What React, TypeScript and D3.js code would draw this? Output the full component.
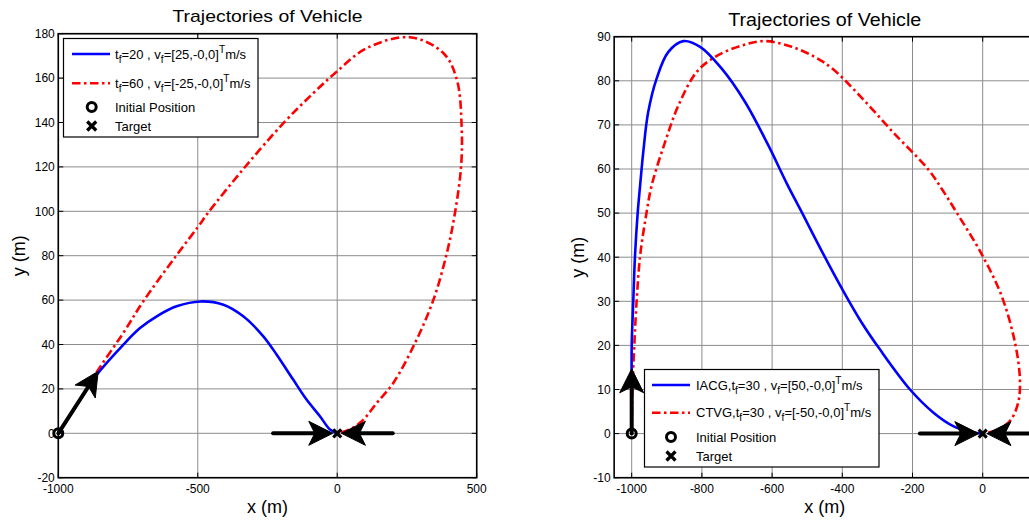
import React from 'react';
import * as d3 from 'd3';

const FONT = "'Liberation Sans', Arial, Helvetica, sans-serif";

// ---------- DATA ----------
const leftXTicks = [-1000, -500, 0, 500];
const leftYTicks = [-20, 0, 20, 40, 60, 80, 100, 120, 140, 160, 180];
const rightXTicks = [-1000, -800, -600, -400, -200, 0];
const rightYTicks = [-10, 0, 10, 20, 30, 40, 50, 60, 70, 80, 90];

type P = [number, number];

const leftBlue: P[] = [
  [-1000, 0], [-930, 13.5], [-862, 26.4], [-767, 39.9], [-707, 47.4], [-647, 52.7],
  [-576, 57.2], [-490, 59.4], [-408, 57.9], [-337, 52.7], [-265, 43.7], [-217, 35.4],
  [-158, 24.2], [-110, 15.2], [-62, 7.7], [-26, 1.7], [0, 0],
];
const leftRed: P[] = [
  [-1000, 0], [-930, 13.5], [-862, 27.6], [-767, 45.2], [-695, 59.5], [-575, 80.4],
  [-498, 93.2], [-462, 99.5], [-337, 119], [-193, 139.7], [-86, 153.2], [-2, 162.9],
  [106, 173.5], [261, 178.4], [381, 171.2], [429, 159.2], [446, 138.2], [444, 120.2],
  [422, 99.2], [393, 81.2], [345, 60.2], [279, 40.7], [201, 22.7], [142, 13.7],
  [88, 5.4], [40, 1.5], [0, 0],
];
const rightBlue: P[] = [
  [-1000, 0], [-1000, 10], [-1000, 19.9], [-995.5, 30], [-990.6, 40.3], [-983, 50],
  [-976, 56.3], [-967, 63.9], [-953, 72.9], [-929, 80.5], [-896, 86.5], [-853, 89],
  [-805, 87.7], [-744, 82.8], [-677, 75.2], [-611, 65.4], [-558, 56.7], [-520, 50.9],
  [-454, 40.7], [-397, 32.3], [-345, 25.2], [-293, 19.1], [-207, 10], [-141, 4.8],
  [-84, 1.7], [-40, 0.5], [0, 0],
];
const rightRed: P[] = [
  [-1000, 0], [-998, 10], [-992.6, 20], [-986, 30], [-976, 40.3], [-960, 49],
  [-943, 56.3], [-905, 66.1], [-867, 74.4], [-815, 82], [-763, 85.4], [-687, 88],
  [-620, 89], [-544, 87.7], [-478, 85.4], [-426, 82.6], [-350, 76.6], [-255, 68.3],
  [-155, 59.9], [-115, 55.3], [-74, 50.1], [-3, 40.7], [54, 31.2], [92, 20.6], [106, 12.3],
  [101, 7], [78, 2.9], [40, 0.8], [0, 0],
];

// arrows: [x0, y0, x1(tip), y1(tip)] in data units
const leftArrows: [number, number, number, number][] = [
  [-1000, 0, -857, 27.9],
  [-230, 0, -16, 0],
  [199, 0, 15, 0],
];
const rightArrows: [number, number, number, number][] = [
  [-1000, 0, -1000, 14.7],
  [-179, 0, -11, 0],
  [200, 0, 12, 0],
];

const initialPos: P = [-1000, 0];
const targetPos: P = [0, 0];

type Seg = { t: string; sub?: boolean; sup?: boolean };
const leftLegendBlue: Seg[] = [
  { t: 't' }, { t: 'f', sub: true }, { t: '=20 , v' }, { t: 'f', sub: true },
  { t: '=[25,-0,0]' }, { t: 'T', sup: true }, { t: 'm/s' },
];
const leftLegendRed: Seg[] = [
  { t: 't' }, { t: 'f', sub: true }, { t: '=60 , v' }, { t: 'f', sub: true },
  { t: '=[-25,-0,0]' }, { t: 'T', sup: true }, { t: 'm/s' },
];
const rightLegendBlue: Seg[] = [
  { t: 'IACG,t' }, { t: 'f', sub: true }, { t: '=30 , v' }, { t: 'f', sub: true },
  { t: '=[50,-0,0]' }, { t: 'T', sup: true }, { t: 'm/s' },
];
const rightLegendRed: Seg[] = [
  { t: 'CTVG,t' }, { t: 'f', sub: true }, { t: '=30 , v' }, { t: 'f', sub: true },
  { t: '=[-50,-0,0]' }, { t: 'T', sup: true }, { t: 'm/s' },
];

const titleText = 'Trajectories of Vehicle';
const xLabelText = 'x (m)';
const yLabelText = 'y (m)';
const initLabel = 'Initial Position';
const targetLabel = 'Target';

// ---------- STYLE ----------
const BLUE = '#0000ff';
const RED = '#ff0000';
const DASHDOT = '8.5,3.5,2.5,3.5';

function RichText({ x, y, segs, size }: { x: number; y: number; segs: Seg[]; size: number }) {
  let cur = 0;
  const spans = segs.map((s, i) => {
    const target = s.sub ? 4 : s.sup ? -6 : 0;
    const dy = target - cur;
    cur = target;
    return (
      <tspan key={i} dy={dy} fontSize={s.sub || s.sup ? size * 0.78 : size}>
        {s.t}
      </tspan>
    );
  });
  return (
    <text x={x} y={y} fontSize={size} fontFamily={FONT} fill="#000">
      {spans}
    </text>
  );
}

function Arrow({ sx, sy, tx, ty }: { sx: number; sy: number; tx: number; ty: number }) {
  const hl = 24, hw = 12, notch = 18;
  const dx = tx - sx, dy = ty - sy;
  const L = Math.hypot(dx, dy);
  const ux = dx / L, uy = dy / L;
  const nx = -uy, ny = ux;
  const bx = tx - ux * hl, by = ty - uy * hl;
  const mx = tx - ux * notch, my = ty - uy * notch;
  const c1 = [bx + nx * hw, by + ny * hw];
  const c2 = [bx - nx * hw, by - ny * hw];
  return (
    <g>
      <line x1={sx} y1={sy} x2={mx} y2={my} stroke="#000" strokeWidth={4} strokeLinecap="round" />
      <path d={`M${tx},${ty}L${c1[0]},${c1[1]}L${mx},${my}L${c2[0]},${c2[1]}Z`} fill="#000" stroke="#000" strokeWidth={1} strokeLinejoin="miter" />
    </g>
  );
}

function Circ({ cx, cy }: { cx: number; cy: number }) {
  return <circle cx={cx} cy={cy} r={4.5} fill="none" stroke="#000" strokeWidth={3} />;
}
function XMark({ cx, cy, s = 4.5 }: { cx: number; cy: number; s?: number }) {
  return (
    <path d={`M${cx - s},${cy - s}L${cx + s},${cy + s}M${cx - s},${cy + s}L${cx + s},${cy - s}`} stroke="#000" strokeWidth={3.2} />
  );
}

type Cfg = {
  id: string;
  xRef: [number, number];
  xRefPx: [number, number];
  xDomain: [number, number];
  yDomain: [number, number];
  yPx: [number, number];
  xTicks: number[];
  yTicks: number[];
  blue: P[];
  red: P[];
  arrows: [number, number, number, number][];
  titleY: number;
  titleSize: number;
  titleLen: number;
  yLabelX: number;
  legend: { x: number; y: number; w: number; h: number; rows: number[]; lx0: number; lx1: number; tx: number; mx: number };
  legBlue: Seg[];
  legRed: Seg[];
};

function Chart({ cfg }: { cfg: Cfg }) {
  const x = d3.scaleLinear().domain(cfg.xRef).range(cfg.xRefPx);
  const y = d3.scaleLinear().domain(cfg.yDomain).range(cfg.yPx);
  const left = x(cfg.xDomain[0]);
  const right = x(cfg.xDomain[1]);
  const bottom = y(cfg.yDomain[0]);
  const top = y(cfg.yDomain[1]);
  const line = d3
    .line<P>()
    .x((d) => x(d[0]))
    .y((d) => y(d[1]))
    .curve(d3.curveCatmullRom.alpha(0.5));
  const cx = (left + right) / 2;
  const cy = (top + bottom) / 2;
  const lg = cfg.legend;
  const tk = 5;
  return (
    <g>
      <defs>
        <clipPath id={`clip-${cfg.id}`}>
          <rect x={left} y={top} width={right - left} height={bottom - top} />
        </clipPath>
      </defs>
      <rect x={left} y={top} width={right - left} height={bottom - top} fill="#fff" />
      {/* grid */}
      <g stroke="#8c8c8c" strokeWidth={1}>
        {cfg.xTicks.map((t) => (
          <line key={'gx' + t} x1={x(t)} x2={x(t)} y1={top} y2={bottom} />
        ))}
        {cfg.yTicks.map((t) => (
          <line key={'gy' + t} x1={left} x2={right} y1={y(t)} y2={y(t)} />
        ))}
      </g>
      <g clipPath={`url(#clip-${cfg.id})`}>
        <path d={line(cfg.red) || ''} fill="none" stroke={RED} strokeWidth={2.6} strokeDasharray={DASHDOT} />
        <path d={line(cfg.blue) || ''} fill="none" stroke={BLUE} strokeWidth={2.6} />
      </g>
      {cfg.arrows.map((a, i) => (
        <Arrow key={i} sx={x(a[0])} sy={y(a[1])} tx={x(a[2])} ty={y(a[3])} />
      ))}
      <Circ cx={x(initialPos[0])} cy={y(initialPos[1])} />
      <XMark cx={x(targetPos[0])} cy={y(targetPos[1])} s={4} />
      {/* axes box */}
      <rect x={left} y={top} width={right - left} height={bottom - top} fill="none" stroke="#000" strokeWidth={1.6} />
      <g stroke="#000" strokeWidth={1}>
        {cfg.xTicks.map((t) => (
          <g key={'tx' + t}>
            <line x1={x(t)} x2={x(t)} y1={bottom} y2={bottom - tk} />
            <line x1={x(t)} x2={x(t)} y1={top} y2={top + tk} />
          </g>
        ))}
        {cfg.yTicks.map((t) => (
          <g key={'ty' + t}>
            <line x1={left} x2={left + tk} y1={y(t)} y2={y(t)} />
            <line x1={right} x2={right - tk} y1={y(t)} y2={y(t)} />
          </g>
        ))}
      </g>
      {/* tick labels */}
      <g fontFamily={FONT} fontSize={12} fill="#000">
        {cfg.xTicks.map((t) => (
          <text key={'lx' + t} x={x(t)} y={bottom + 15.5} textAnchor="middle">
            {t}
          </text>
        ))}
        {cfg.yTicks.map((t) => (
          <text key={'ly' + t} x={left - 3.5} y={y(t) + 4.3} textAnchor="end">
            {t}
          </text>
        ))}
      </g>
      {/* title and labels */}
      <text
        x={cx}
        y={cfg.titleY}
        textAnchor="middle"
        fontFamily={FONT}
        fontSize={cfg.titleSize}
        textLength={cfg.titleLen}
        lengthAdjust="spacingAndGlyphs"
        fill="#000"
      >
        {titleText}
      </text>
      <text x={cx} y={513} textAnchor="middle" fontFamily={FONT} fontSize={18} fill="#000">
        {xLabelText}
      </text>
      <text
        transform={`translate(${cfg.yLabelX},${cy}) rotate(-90)`}
        textAnchor="middle"
        fontFamily={FONT}
        fontSize={18}
        fill="#000"
      >
        {yLabelText}
      </text>
      {/* legend */}
      <g>
        <rect x={lg.x} y={lg.y} width={lg.w} height={lg.h} fill="#fff" stroke="#000" strokeWidth={1.2} />
        <line x1={lg.lx0} x2={lg.lx1} y1={lg.rows[0]} y2={lg.rows[0]} stroke={BLUE} strokeWidth={2.6} />
        <RichText x={lg.tx} y={lg.rows[0] + 4.5} segs={cfg.legBlue} size={13} />
        <line x1={lg.lx0} x2={lg.lx1} y1={lg.rows[1]} y2={lg.rows[1]} stroke={RED} strokeWidth={2.6} strokeDasharray={DASHDOT} />
        <RichText x={lg.tx} y={lg.rows[1] + 4.5} segs={cfg.legRed} size={13} />
        <Circ cx={lg.mx} cy={lg.rows[2]} />
        <text x={lg.tx} y={lg.rows[2] + 4.5} fontFamily={FONT} fontSize={13} fill="#000">
          {initLabel}
        </text>
        <XMark cx={lg.mx} cy={lg.rows[3]} s={4.5} />
        <text x={lg.tx} y={lg.rows[3] + 4.5} fontFamily={FONT} fontSize={13} fill="#000">
          {targetLabel}
        </text>
      </g>
    </g>
  );
}

const leftCfg: Cfg = {
  id: 'l',
  xRef: [-1000, 500],
  xRefPx: [58.3, 476.7],
  xDomain: [-1000, 500],
  yDomain: [-20, 180],
  yPx: [477.7, 33.7],
  xTicks: leftXTicks,
  yTicks: leftYTicks,
  blue: leftBlue,
  red: leftRed,
  arrows: leftArrows,
  titleY: 21.5,
  titleSize: 17,
  titleLen: 190,
  yLabelX: 25,
  legend: { x: 63.5, y: 38.5, w: 194.5, h: 98.5, rows: [54, 83.3, 107, 126], lx0: 72, lx1: 110, tx: 115, mx: 91.7 },
  legBlue: leftLegendBlue,
  legRed: leftLegendRed,
};

const rightCfg: Cfg = {
  id: 'r',
  xRef: [-1000, 0],
  xRefPx: [631.7, 982.7],
  xDomain: [-1050, 150],
  yDomain: [-10, 90],
  yPx: [477.7, 36.7],
  xTicks: rightXTicks,
  yTicks: rightYTicks,
  blue: rightBlue,
  red: rightRed,
  arrows: rightArrows,
  titleY: 26,
  titleSize: 17.5,
  titleLen: 193,
  yLabelX: 584,
  legend: { x: 644.5, y: 369.5, w: 234.5, h: 97.5, rows: [385, 412.7, 437, 456], lx0: 652, lx1: 690, tx: 696, mx: 671 },
  legBlue: rightLegendBlue,
  legRed: rightLegendRed,
};

export default function App() {
  return (
    <svg
      width={1029}
      height={525}
      viewBox="0 0 1029 525"
      style={{ position: 'absolute', left: 0, top: 0, background: '#fff', display: 'block' }}
    >
      <rect x={0} y={0} width={1029} height={525} fill="#fff" />
      <Chart cfg={leftCfg} />
      <Chart cfg={rightCfg} />
    </svg>
  );
}
